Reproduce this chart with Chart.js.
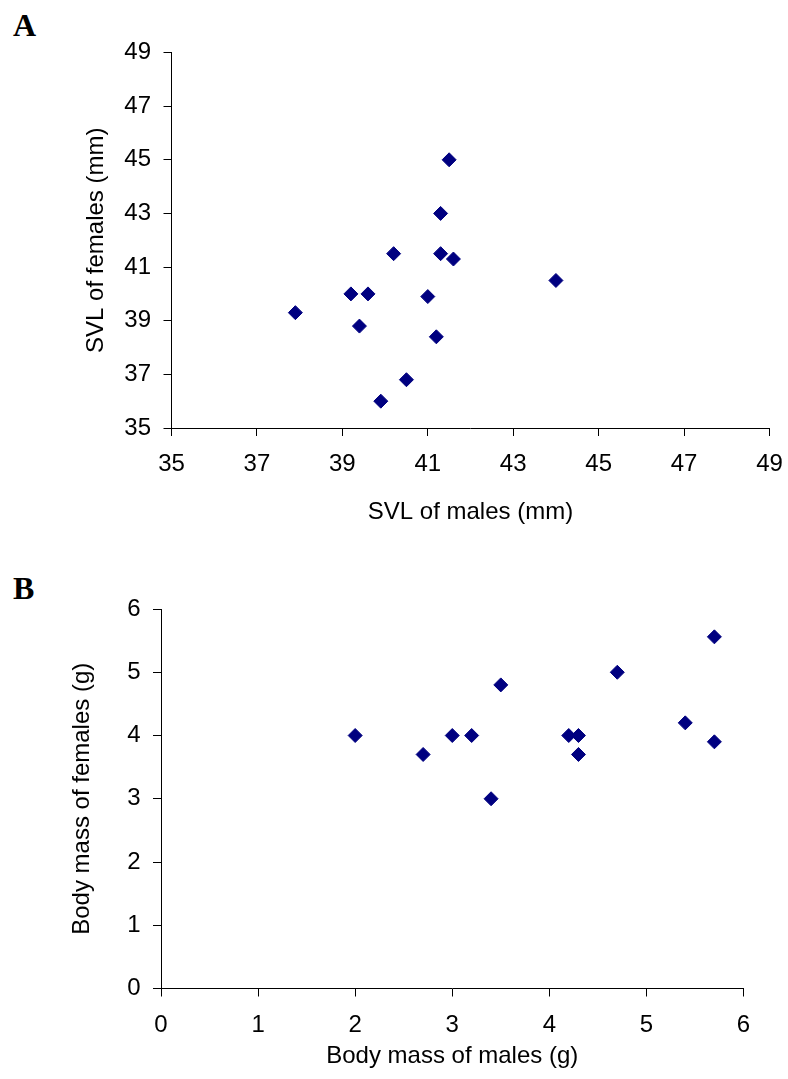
<!DOCTYPE html>
<html>
<head>
<meta charset="utf-8">
<script src="https://cdn.jsdelivr.net/npm/chart.js@4.4.1/dist/chart.umd.min.js"></script>
<style>
  html, body { margin: 0; padding: 0; background: #fff; }
  body { width: 788px; height: 1079px; position: relative; overflow: hidden; }
  canvas { position: absolute; left: 0; }
  .panel { position: absolute; left: 13px; font-family: "Liberation Serif", "Times New Roman", serif; font-weight: bold; font-size: 32px; line-height: 32px; color: #000; }
</style>
</head>
<body>
<div class="panel" style="top:9px;">A</div>
<div class="panel" style="top:572px;">B</div>
<canvas id="chartA" width="788" height="540" style="top:0;"></canvas>
<canvas id="chartB" width="788" height="519" style="top:560px;"></canvas>
<script>
// Panel A: snout-vent length (mm)
const maleSVL   = [37.9, 39.2, 39.6, 39.4, 40.2, 39.9, 40.5, 41.0, 41.2, 41.3, 41.3, 41.5, 41.6, 44.0];
const femaleSVL = [39.3, 40.0, 40.0, 38.8, 41.5, 36.0, 36.8, 39.9, 38.4, 43.0, 41.5, 45.0, 41.3, 40.5];
const svlTicks  = [35, 37, 39, 41, 43, 45, 47, 49];

// Panel B: body mass (g)
const maleMass   = [2.0, 2.7, 3.0, 3.2, 3.4, 3.5, 4.2, 4.3, 4.3, 4.7, 5.4, 5.7, 5.7];
const femaleMass = [4.0, 3.7, 4.0, 4.0, 3.0, 4.8, 4.0, 4.0, 3.7, 5.0, 4.2, 5.56, 3.9];
const massTicks  = [0, 1, 2, 3, 4, 5, 6];

const axisTitles = {
  ax: 'SVL of males (mm)', ay: 'SVL of females (mm)',
  bx: 'Body mass of males (g)', by: 'Body mass of females (g)'
};

const FONT = '"Liberation Sans", Arial, sans-serif';
const MARK = '#000080';

function makeChart(id, xs, ys, ticks, cfg) {
  const pts = xs.map((x, i) => ({ x: x, y: ys[i] }));
  const step = ticks[1] - ticks[0];
  const axisCommon = {
    type: 'linear',
    min: ticks[0],
    max: ticks[ticks.length - 1],
    border: { display: true, color: '#000', width: 1 },
    grid: { drawOnChartArea: false, drawTicks: true, tickLength: 8, color: '#000', lineWidth: 1 },
  };
  return new Chart(document.getElementById(id), {
    type: 'scatter',
    data: {
      datasets: [{
        data: pts,
        pointStyle: 'rectRot',
        pointRadius: 7,
        pointBackgroundColor: MARK,
        pointBorderColor: MARK,
        pointBorderWidth: 1,
        showLine: false
      }]
    },
    options: {
      responsive: false,
      animation: false,
      devicePixelRatio: 1,
      layout: { padding: { top: cfg.padTop, right: cfg.padRight, left: 0, bottom: 0 } },
      plugins: { legend: { display: false }, tooltip: { enabled: false } },
      scales: {
        x: Object.assign({}, axisCommon, {
          position: 'bottom',
          ticks: { stepSize: step, color: '#000', padding: 14, font: { family: FONT, size: 24 }, maxRotation: 0,
                   callback: (v) => ticks.includes(v) ? String(v) : null },
          title: { display: true, text: cfg.xTitle, color: '#000', font: { family: FONT, size: 24 },
                   padding: { top: 0, bottom: cfg.xTitlePad } },
          afterFit: (s) => { s.height = cfg.xAxisH; s.paddingLeft = 0; s.paddingRight = 0; }
        }),
        y: Object.assign({}, axisCommon, {
          position: 'left',
          ticks: { stepSize: step, color: '#000', padding: 12.5, font: { family: FONT, size: 24 },
                   callback: (v) => ticks.includes(v) ? String(v) : null },
          title: { display: true, text: cfg.yTitle, color: '#000', font: { family: FONT, size: 24 },
                   padding: { top: cfg.yTitlePad, bottom: 0 } },
          afterFit: (s) => { s.width = cfg.yAxisW; s.paddingTop = 0; s.paddingBottom = 0; }
        })
      }
    }
  });
}

makeChart('chartA', maleSVL, femaleSVL, svlTicks, {
  padTop: 52.5, padRight: 18.5, xAxisH: 112, yAxisW: 171.5,
  xTitle: axisTitles.ax, yTitle: axisTitles.ay, xTitlePad: 13.5, yTitlePad: 82
});
makeChart('chartB', maleMass, femaleMass, massTicks, {
  padTop: 49, padRight: 44.5, xAxisH: 90.5, yAxisW: 161,
  xTitle: axisTitles.bx, yTitle: axisTitles.by, xTitlePad: 8.5, yTitlePad: 68
});
</script>
</body>
</html>
